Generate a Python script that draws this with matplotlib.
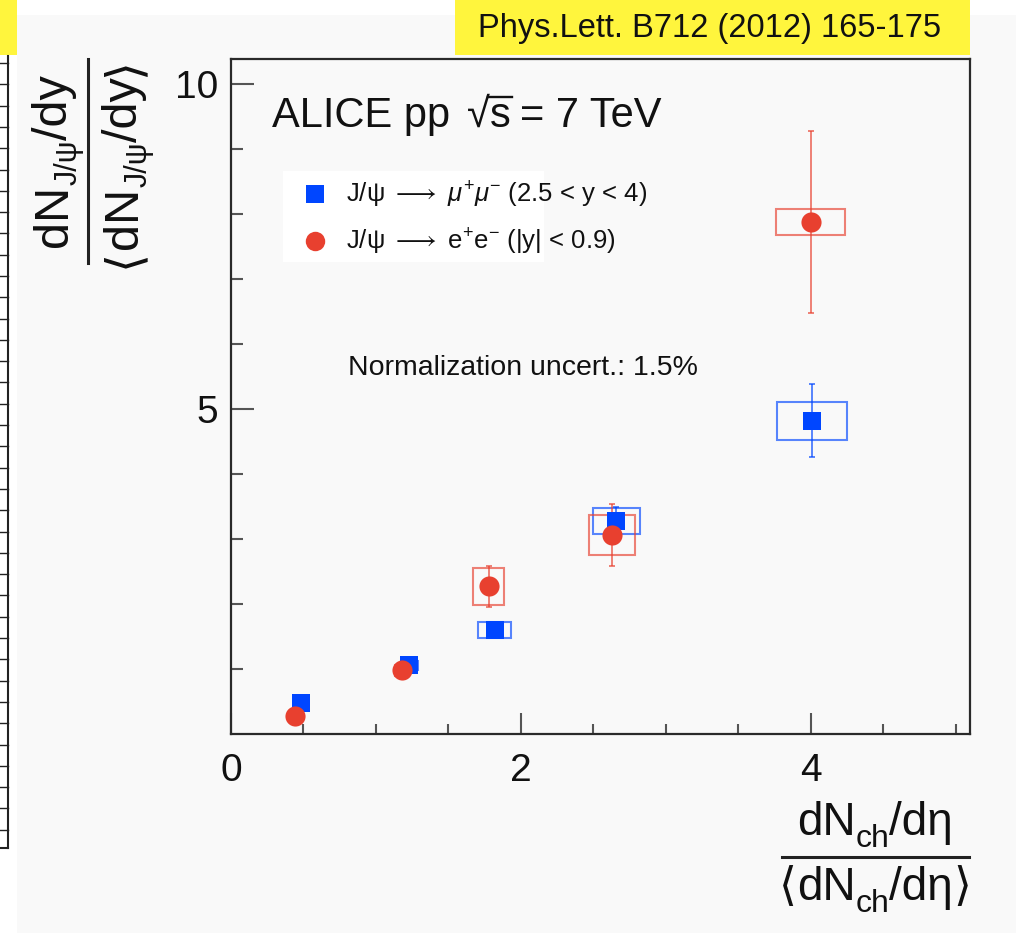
import numpy as np
import matplotlib
matplotlib.use("Agg")
import matplotlib.pyplot as plt
from matplotlib.patches import Rectangle
from matplotlib.lines import Line2D

plt.rcParams['font.family'] = ['Liberation Sans', 'DejaVu Sans']
plt.rcParams['mathtext.fontset'] = 'custom'
plt.rcParams['mathtext.rm'] = 'Liberation Sans'
plt.rcParams['mathtext.it'] = 'Liberation Sans:italic'
plt.rcParams['mathtext.bf'] = 'Liberation Sans:bold'
plt.rcParams['mathtext.fallback'] = 'stix'

# J/psi -> mu+mu- (forward rapidity)
x_mumu = [0.48, 1.23, 1.82, 2.66, 4.01]
y_mumu = [0.48, 1.06, 1.60, 3.27, 4.82]
stat_mumu = [0.03, 0.05, 0.06, 0.23, 0.56]
sysx_mumu = [0.03, 0.06, 0.115, 0.165, 0.24]
sysy_mumu = [0.03, 0.07, 0.12, 0.20, 0.29]

# J/psi -> e+e- (mid rapidity)
x_ee = [0.44, 1.18, 1.78, 2.63, 4.00]
y_ee = [0.27, 0.98, 2.27, 3.06, 7.88]
stat_ee = [0.04, 0.05, 0.32, 0.48, 1.40]
sysx_ee = [0.03, 0.05, 0.107, 0.16, 0.24]
sysy_ee = [0.03, 0.08, 0.28, 0.31, 0.20]

label_mumu = r'J/ψ $\longrightarrow$ $\mathit{μ}^{+}\mathit{μ}^{-}$ (2.5 < y < 4)'
label_ee = r'J/ψ $\longrightarrow$ $\mathrm{e}^{+}\mathrm{e}^{-}$ (|y| < 0.9)'

BLUE = '#0046ff'
RED = '#e8402f'
INK = '#111111'
W, H = 1016, 933

fig = plt.figure(figsize=(W / 100, H / 100), dpi=100, facecolor='white')

# background canvas in pixel coordinates (origin top-left)
bg = fig.add_axes([0, 0, 1, 1], zorder=0)
bg.set_xlim(0, W)
bg.set_ylim(H, 0)
bg.axis('off')
bg.add_patch(Rectangle((17, 15), W - 17, H - 15, color='#f9f9f9', lw=0))
bg.add_patch(Rectangle((0, 0), 17, 55, color='#fff53d', lw=0))
bg.add_patch(Rectangle((455, 0), 970 - 455, 55, color='#fff53d', lw=0))
bg.text(710, 28, 'Phys.Lett. B712 (2012) 165-175', fontsize=23.5,
        ha='center', va='center', color=INK)

# remains of the neighbouring panel on the left
bg.plot([7.5, 7.5], [56, 848], color='#222222', lw=1.5)
bg.plot([0, 7.5], [848, 848], color='#222222', lw=1.5)
for yt in np.arange(63, 848, 21.3):
    bg.plot([0, 7.5], [yt, yt], color='#222222', lw=1.0)

# legend box (ROOT-style, text runs past it)
bg.add_patch(Rectangle((283, 171), 544 - 283, 262 - 171, color='white', lw=0))

renderer = fig.canvas.get_renderer()


def rich(parts, x, y, rotation=0, center=True):
    """Lay out (text, size, drop) pieces one after another along the baseline.
    A piece with text None is just a gap of `size` pixels."""
    items = []
    for s, fs, drop in parts:
        if s is None:
            items.append((None, fs, 0))
            continue
        t = bg.text(0, 0, s, fontsize=fs, rotation=rotation, rotation_mode='anchor',
                    ha='left', va='baseline', color=INK)
        bb = t.get_window_extent(renderer)
        items.append((t, bb.width if rotation == 0 else bb.height, drop))
    total = sum(L for _, L, _ in items)
    pos = -total / 2 if center else 0
    placed = []
    for t, L, drop in items:
        if t is not None:
            if rotation == 0:
                t.set_position((x + pos, y + drop))
            else:
                t.set_position((x + drop, y - pos))
        placed.append((t, pos, L))
        pos += L
    return placed


ax = fig.add_axes([231 / W, (H - 734) / H, (970 - 231) / W, (734 - 59) / H], zorder=1)
ax.set_facecolor('none')
ax.set_xlim(0, 5.1)
ax.set_ylim(0, 10.385)

for sp in ax.spines.values():
    sp.set_color('#2a2a2a')
    sp.set_linewidth(1.6)

ax.set_xticks([0, 2, 4])
ax.set_xticks(np.arange(0.5, 5.1, 0.5), minor=True)
ax.set_yticks([5, 10])
ax.set_yticks(np.arange(1, 10.4, 1), minor=True)
ax.tick_params(which='both', direction='in', top=False, right=False,
               color='#555555', width=1.5, labelsize=28, labelcolor=INK)
ax.tick_params(axis='x', which='major', length=15, pad=14)
ax.tick_params(axis='x', which='minor', length=7.5)
ax.tick_params(axis='y', which='major', length=16.5, pad=9)
ax.tick_params(axis='y', which='minor', length=8.5)


def draw_series(xs, ys, stat, sx, sy, color, marker, ms):
    for x, y, ex, ey in zip(xs, ys, sx, sy):
        ax.add_patch(Rectangle((x - ex, y - ey), 2 * ex, 2 * ey, fill=False,
                               edgecolor=color, alpha=0.65, lw=1.5, zorder=2))
    ax.errorbar(xs, ys, yerr=stat, fmt='none', ecolor=color, elinewidth=1.3,
                capsize=2.5, capthick=1.3, alpha=0.7, zorder=3)
    ax.plot(xs, ys, linestyle='none', marker=marker, color=color,
            markersize=ms, markeredgewidth=0, zorder=4)


draw_series(x_mumu, y_mumu, stat_mumu, sysx_mumu, sysy_mumu, BLUE, 's', 13.5)
draw_series(x_ee, y_ee, stat_ee, sysx_ee, sysy_ee, RED, 'o', 14.5)

handles = [
    Line2D([], [], linestyle='none', marker='s', color=BLUE, markersize=13, markeredgewidth=0),
    Line2D([], [], linestyle='none', marker='o', color=RED, markersize=14, markeredgewidth=0),
]
leg = fig.legend(handles, [label_mumu, label_ee], loc='upper left',
                 bbox_to_anchor=(283 / W, 1 - 161 / H), frameon=False,
                 fontsize=18.5, handlelength=1.0, handletextpad=0.72,
                 borderpad=0.745, labelspacing=0.64, borderaxespad=0)
for txt in leg.get_texts():
    txt.set_color(INK)

# ALICE pp sqrt(s) = 7 TeV, with a hand-drawn radical bar over the s
alice = rich([('ALICE pp', 30, 0), (None, 17, 0), ('√', 30, 0), ('s', 30, 0),
              (None, 9, 0), ('= 7 TeV', 30, 0)], 272, 127, center=False)
t_rad, p_rad, l_rad = alice[2]
t_s, p_s, l_s = alice[3]
rad_top = bg.transData.inverted().transform(
    (0, t_rad.get_window_extent(renderer).y1))[1]
bg.plot([272 + p_rad + l_rad - 2, 272 + p_s + l_s + 1], [rad_top + 1, rad_top + 1],
        color=INK, lw=1.7)

bg.text(348, 375, 'Normalization uncert.: 1.5%', fontsize=20.5,
        ha='left', va='baseline', color=INK)

# y-axis title as a fraction
rich([('dN', 35, 0), ('J/ψ', 22, 10), ('/dy', 35, 0)], 67, 161, rotation=90)
rich([('⟨', 35, 0), ('dN', 35, 0), ('J/ψ', 22, 10), ('/dy', 35, 0), ('⟩', 35, 0)],
     137, 163, rotation=90)
bg.plot([88, 88], [59, 263], color='#222222', lw=2.2)

# x-axis title as a fraction
rich([('dN', 33, 0), ('ch', 23, 12), ('/dη', 33, 0)], 875, 835)
rich([('⟨', 33, 0), ('dN', 33, 0), ('ch', 23, 12), ('/dη', 33, 0), ('⟩', 33, 0)], 875, 900)
bg.plot([782, 969], [857, 857], color='#222222', lw=2.2)

fig.savefig('out.png', dpi=100, facecolor=fig.get_facecolor())
